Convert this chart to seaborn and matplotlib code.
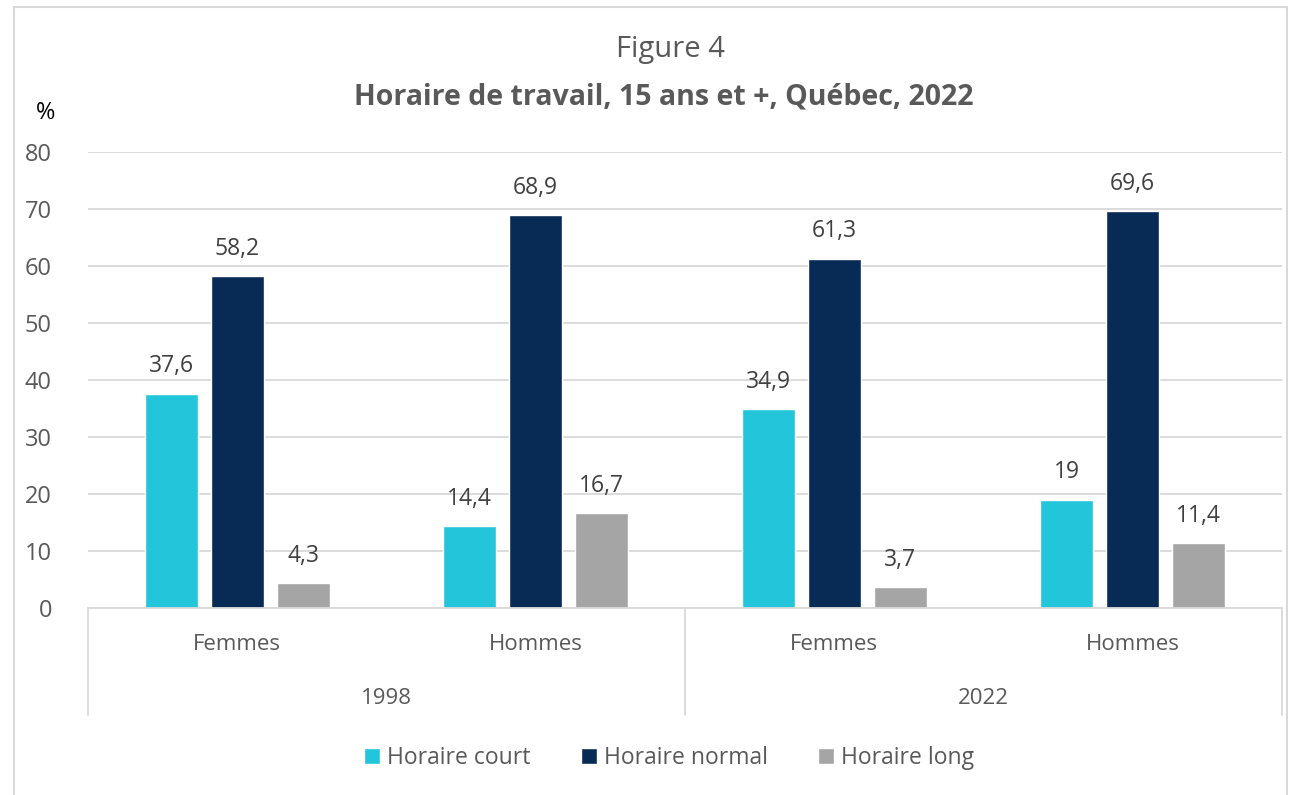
import pandas as pd
import numpy as np
import matplotlib.pyplot as plt
import seaborn as sns
from matplotlib.patches import Rectangle

# Données
annees = ["1998", "1998", "2022", "2022"]
sexes = ["Femmes", "Hommes", "Femmes", "Hommes"]
series = ["Horaire court", "Horaire normal", "Horaire long"]
horaire_court = [37.6, 14.4, 34.9, 19.0]
horaire_normal = [58.2, 68.9, 61.3, 69.6]
horaire_long = [4.3, 16.7, 3.7, 11.4]
couleurs = ["#22C5DA", "#072B55", "#A5A5A5"]

sns.set_style("white")
plt.rcParams['font.family'] = ['Open Sans', 'DejaVu Sans']

# Tableau long pour seaborn
groupes = [f"{s} {a}" for s, a in zip(sexes, annees)]
rows = []
for nom, vals in zip(series, [horaire_court, horaire_normal, horaire_long]):
    for g, v in zip(groupes, vals):
        rows.append({"groupe": g, "serie": nom, "valeur": v})
df = pd.DataFrame(rows)

W, H = 1291, 795
fig = plt.figure(figsize=(W / 100, H / 100), dpi=100)
ax = fig.add_axes([88 / W, 1 - 608 / H, (1282 - 88) / W, (608 - 152) / H])

sns.barplot(data=df, x="groupe", y="valeur", hue="serie", order=groupes,
            hue_order=series, palette=couleurs, width=0.663, gap=0.2,
            saturation=1, ax=ax, legend=True)

for cont in ax.containers:
    labs = [f"{b.get_height():g}".replace(".", ",") for b in cont]
    ax.bar_label(cont, labels=labs, padding=11, fontsize=16.5, color="#404040")

ax.set_ylim(0, 80)
ax.set_yticks(range(0, 81, 10))
ax.set_xlim(-0.5, 3.5)
ax.grid(axis="y", color="#D9D9D9", lw=1.3)
ax.set_axisbelow(True)
for s in ["top", "right", "left"]:
    ax.spines[s].set_visible(False)
ax.spines["bottom"].set_color("#D9D9D9")
ax.spines["bottom"].set_linewidth(1.3)
ax.tick_params(axis="y", length=0, labelsize=17, labelcolor="#595959", pad=26)
ax.set_xticks([])
ax.set_xlabel("")
ax.set_ylabel("")

# Axe à deux niveaux (sexe / année)
tr = ax.get_xaxis_transform()
for i, s in enumerate(sexes):
    ax.text(i, -37 / 456, s, transform=tr, ha="center", va="center",
            fontsize=16, color="#595959")
for i, a in enumerate(["1998", "2022"]):
    ax.text(2 * i + 0.5, -90 / 456, a, transform=tr, ha="center", va="center",
            fontsize=16, color="#595959")
for x in [-0.5, 1.5, 3.5]:
    ax.plot([x, x], [0, -107 / 456], transform=tr, color="#D9D9D9", lw=1.3,
            clip_on=False)

# Légende
handles, labels = ax.get_legend_handles_labels()
ax.legend_.remove()
fig.legend(handles, labels, loc="center", bbox_to_anchor=(669 / W, 1 - 758 / H),
           ncol=3, frameon=False, fontsize=16.5, handlelength=0.7, handleheight=0.7,
           handletextpad=0.3, columnspacing=2.2, labelcolor="#595959")

# Titres
fig.text(670 / W, 1 - 50 / H, "Figure 4", ha="center", va="center",
         fontsize=21, color="#595959")
fig.text(664 / W, 1 - 97 / H, "Horaire de travail, 15 ans et +, Québec, 2022",
         ha="center", va="center", fontsize=20.5, fontweight="bold", color="#595959")
fig.text(36 / W, 1 - 113 / H, "%", ha="left", va="center", fontsize=17,
         color="black")

# Cadre
fig.patches.append(Rectangle((14 / W, -0.02), (1287 - 14) / W, 1 - 7 / H + 0.02,
                             transform=fig.transFigure, fill=False,
                             edgecolor="#D9D9D9", lw=1.5))

fig.savefig("out.png", dpi=100)
